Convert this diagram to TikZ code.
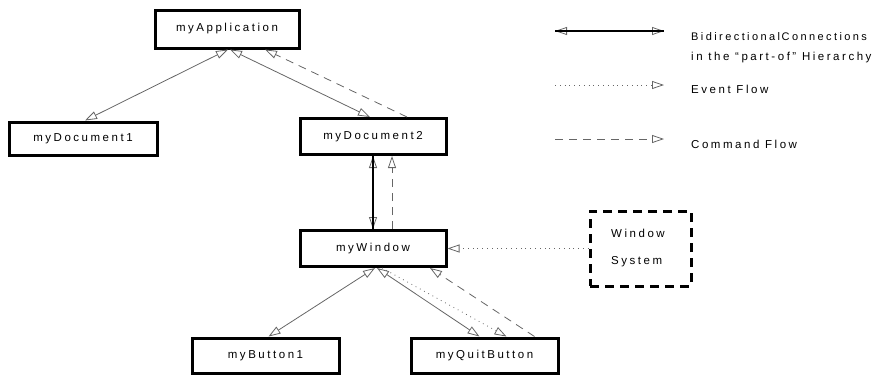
\documentclass[tikz,border=0pt]{standalone}
\usepackage{fontspec}
\setmainfont{Liberation Sans}[LetterSpace=22]
\usetikzlibrary{arrows.meta,calc}
\begin{document}
\begin{tikzpicture}[x=1pt,y=-1pt,
  mytip/.tip={Triangle[open,length=12pt,width=8pt,line width=0.8pt,color=black!60]},
  box/.style={draw=black,line width=3pt,rectangle,minimum width=146pt,minimum height=36pt,inner sep=0pt,font=\fontsize{11.5}{13}\selectfont},
  lbl/.style={anchor=west,inner sep=0pt,font=\fontsize{11.5}{13}\selectfont},
  part/.style={draw=black!60,line width=0.8pt,mytip-mytip},
  thickline/.style={draw=black,line width=2.4pt},
  event/.style={draw=black!60,line width=0.8pt,dash pattern=on 0.8pt off 4pt,-mytip},
  cmd/.style={draw=black!60,line width=0.8pt,dash pattern=on 8pt off 6pt,-mytip}]
\useasboundingbox (0,0) rectangle (874,375);
\node[box,minimum width=144pt,minimum height=38pt] (app) at (227,29) {myApplication};
\node[box,minimum width=148pt,minimum height=33pt] (doc1) at (83,138.5) {myDocument1};
\node[box] (doc2) at (373,136.5) {myDocument2};
\node[box] (win) at (373,248.5) {myWindow};
\node[box,minimum width=147pt,minimum height=35pt] (btn1) at (265.5,355.5) {myButton1};
\node[box,minimum width=147pt,minimum height=35pt] (quit) at (484.5,355.5) {myQuitButton};
\node[draw=black,line width=3pt,dash pattern=on 9pt off 6pt,rectangle,minimum width=101pt,minimum height=75pt,inner sep=0pt] (ws) at (640.5,248.5) {};
\node[lbl] (wst1) at (611,233) {Window};
\node[lbl] (wst2) at (611,262) {System};
% connectors
\draw[part] ([xshift=1pt]app.south) -- ([xshift=2pt]doc1.north);
\draw[part] ([xshift=3pt]app.south) -- ([xshift=-3pt]doc2.north);
\draw[cmd] ([xshift=34pt]doc2.north) -- ([xshift=38pt]app.south);
\draw[part] (doc2.south) -- (win.north);
\draw[thickline] (doc2.south) -- (win.north);
\draw[cmd] ([xshift=19pt]win.north) -- ([xshift=19pt]doc2.south);
\draw[event] (ws.west |- win.east) -- (win.east);
\draw[part] ([xshift=2pt]win.south) -- ([xshift=3pt]btn1.north);
\draw[part] ([xshift=4pt]win.south) -- ([xshift=-5pt]quit.north);
\draw[event] ([xshift=9pt]win.south) -- ([xshift=22pt]quit.north);
\draw[cmd] ([xshift=50pt]quit.north) -- ([xshift=57pt]win.south);
% legend
\coordinate (l1a) at (555,31); \coordinate (l1b) at (664,31);
\coordinate (l2a) at (555,85); \coordinate (l2b) at (664,85);
\coordinate (l3a) at (555,139); \coordinate (l3b) at (664,139);
\draw[part] (l1a) -- (l1b);
\draw[thickline] (l1a) -- (l1b);
\draw[event] (l2a) -- (l2b);
\draw[cmd] (l3a) -- (l3b);
\node[lbl,font=\fontsize{11}{13}\selectfont] (t1) at (691,37) {Bidirectional\hspace{1.5pt}Connections};
\node[lbl] (t2) at (691,58) {in the ``part-of'' Hierarchy};
\node[lbl] (t3) at (691,89) {Event Flow};
\node[lbl] (t4) at (691,144) {Command Flow};
\end{tikzpicture}
\end{document}
